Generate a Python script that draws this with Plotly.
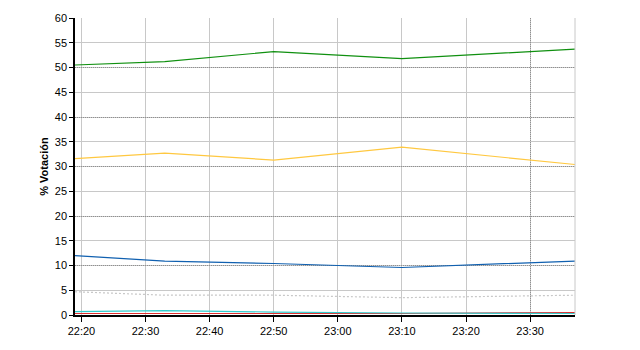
import plotly.graph_objects as go

times = ["2024-01-01 22:19", "2024-01-01 22:33", "2024-01-01 22:50", "2024-01-01 23:10", "2024-01-01 23:37"]
green = [50.5, 51.2, 53.2, 51.8, 53.7]
yellow = [31.6, 32.7, 31.3, 33.9, 30.4]
blue = [12.0, 10.9, 10.4, 9.6, 10.9]
gray = [4.7, 4.0, 4.0, 3.5, 4.0]
cyan = [0.7, 0.9, 0.6, 0.4, 0.3]
red = [0.3, 0.3, 0.3, 0.3, 0.5]
tick_times = ["2024-01-01 22:20", "2024-01-01 22:30", "2024-01-01 22:40", "2024-01-01 22:50",
              "2024-01-01 23:00", "2024-01-01 23:10", "2024-01-01 23:20", "2024-01-01 23:30"]
tick_labels = ["22:20", "22:30", "22:40", "22:50", "23:00", "23:10", "23:20", "23:30"]
dotted_vtimes = ["2024-01-01 23:30"]

fig = go.Figure()
series = [
    (gray, "#c8c8c8", "2px,2px"),
    (red, "#e03030", "solid"),
    (cyan, "#33cccc", "solid"),
    (blue, "#1060b0", "solid"),
    (yellow, "#ffc840", "solid"),
    (green, "#109010", "solid"),
]
for vals, col, dash in series:
    fig.add_trace(go.Scatter(x=times, y=vals, mode="lines",
                             line=dict(color=col, width=1.2, dash=dash),
                             showlegend=False, hoverinfo="skip"))

rng = ["2024-01-01 22:19", "2024-01-01 23:37"]
fig.update_layout(
    width=640, height=350,
    margin=dict(l=75, r=65, t=15, b=35),
    paper_bgcolor="white", plot_bgcolor="white",
    font=dict(family="Liberation Sans, Arial", size=11, color="black"),
    xaxis=dict(type="date", range=rng, tickvals=tick_times, ticktext=tick_labels,
               showgrid=True, gridcolor="#c8c8c8", gridwidth=1,
               showline=True, linecolor="black", linewidth=1.5, mirror=False,
               ticks="outside", ticklen=5, tickcolor="black", zeroline=False),
    xaxis2=dict(type="date", range=rng, overlaying="x", tickvals=dotted_vtimes,
                showticklabels=False, showgrid=True, gridcolor="#909090",
                griddash="1px,1px", ticks="", showline=False, zeroline=False),
    yaxis=dict(range=[0, 60], dtick=5, tick0=0,
               showgrid=True, gridcolor="#c8c8c8", gridwidth=1,
               showline=True, linecolor="black", linewidth=1.5,
               ticks="outside", ticklen=4, tickcolor="black", zeroline=False,
               title=dict(text="<b>% Votación</b>", standoff=4, font=dict(size=11))),
    yaxis2=dict(range=[0, 60], dtick=10, overlaying="y", showticklabels=False,
                showgrid=True, gridcolor="#909090", griddash="1px,1px",
                ticks="", showline=False, zeroline=False),
)
fig.add_trace(go.Scatter(x=[rng[0]], y=[0], xaxis="x2", yaxis="y2", mode="markers",
                         marker=dict(opacity=0), showlegend=False, hoverinfo="skip"))
fig.add_shape(type="line", xref="paper", yref="paper", x0=1, x1=1, y0=0, y1=1,
              line=dict(color="#c8c8c8", width=1))
fig.write_html("out.html")
